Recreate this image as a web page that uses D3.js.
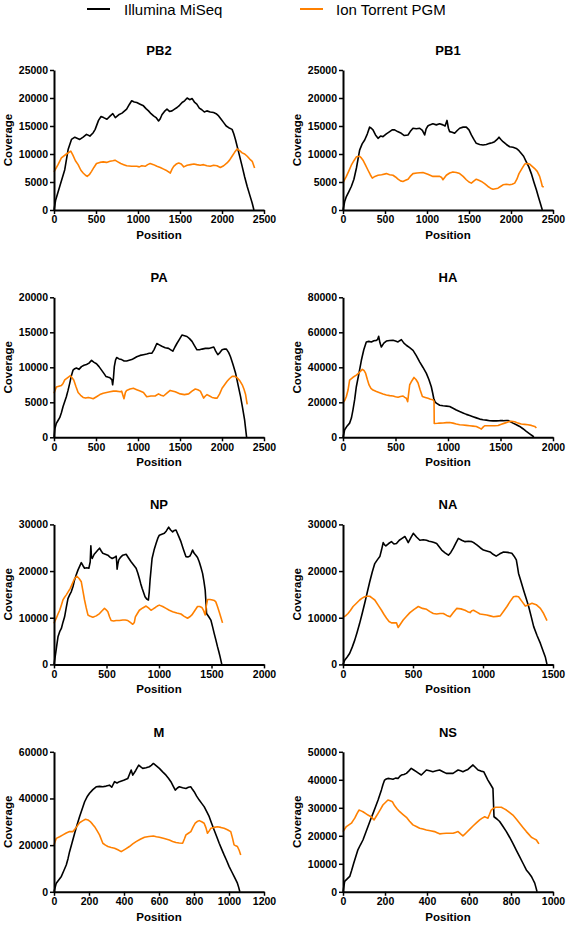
<!DOCTYPE html>
<html><head><meta charset="utf-8">
<script src="https://cdn.jsdelivr.net/npm/d3@7"></script>
<style>body{margin:0;background:#fff}svg{display:block}</style>
</head><body>
<script>
// ---------- DATA ----------
const segmentNames = ["PB2","PB1","PA","HA","NP","NA","M","NS"];
const xMaxes = [2500,2500,2500,2000,2000,1500,1200,1000];
const xTickSteps = [500,500,500,500,500,500,200,200];
const yMaxes = [25000,25000,20000,80000,30000,30000,60000,50000];
const yTickSteps = [5000,5000,5000,20000,10000,10000,20000,10000];
const seriesNames = ["Illumina MiSeq","Ion Torrent PGM"];

const illuminaPB2 = [[0,0],[20,1800],[68,4200],[128,7200],[168,10800],[208,12600],[248,13000],[307,12600],[347,13000],[387,13500],[427,13200],[467,13800],[490,14400],[530,16000],[560,16700],[590,16500],[630,16200],[670,16800],[700,17200],[730,16500],[770,17000],[810,17300],[865,18000],[895,18800],[925,19500],[955,19300],[985,19200],[1025,18900],[1065,18600],[1095,18100],[1125,17700],[1155,17200],[1185,16800],[1215,16500],[1245,15900],[1265,16300],[1285,17000],[1315,17600],[1345,18000],[1375,17600],[1405,17700],[1435,18000],[1465,18300],[1495,18700],[1525,19200],[1555,19500],[1585,20000],[1615,19700],[1645,19900],[1675,19200],[1700,18900],[1730,18200],[1760,17900],[1790,17500],[1820,17700],[1860,17500],[1900,17400],[1930,17200],[1960,16800],[1990,16200],[2020,15600],[2050,15000],[2080,14700],[2120,14400],[2140,13600],[2160,12600],[2200,10200],[2240,7800],[2270,5900],[2300,4200],[2330,2700],[2360,1200],[2380,0]];
const ionPB2 = [[0,6800],[48,8100],[88,9300],[148,10000],[200,10500],[225,9800],[255,8800],[287,8100],[320,7100],[347,6600],[375,6200],[395,6000],[420,6300],[447,6900],[475,7600],[506,8300],[546,8500],[586,8600],[626,8500],[666,8700],[700,8800],[726,8900],[760,8600],[795,8300],[830,8100],[865,7900],[925,7800],[985,7800],[1015,7700],[1045,7900],[1085,7800],[1115,8100],[1145,8300],[1185,8100],[1225,7800],[1265,7600],[1305,7300],[1345,7000],[1385,6600],[1405,7300],[1425,7800],[1455,8200],[1485,8400],[1515,8200],[1545,7700],[1585,8000],[1625,8100],[1665,8200],[1700,8100],[1740,8000],[1780,8100],[1820,7900],[1860,7800],[1900,8000],[1940,7900],[1980,7600],[2020,7900],[2060,8400],[2090,8900],[2120,9600],[2150,10300],[2180,10900],[2210,10600],[2240,10200],[2270,10000],[2300,9600],[2330,9100],[2360,8700],[2388,7500]];

const illuminaPB1 = [[0,0],[20,1500],[40,2400],[70,3300],[99,4200],[130,5500],[160,7500],[198,10700],[228,11800],[258,12500],[290,13600],[317,14800],[337,14600],[357,14300],[387,13400],[417,12800],[447,13200],[476,13100],[516,13600],[556,14000],[585,14300],[615,14300],[650,14000],[694,13700],[730,13300],[774,13400],[800,14000],[833,14600],[873,14500],[913,14600],[945,14200],[972,13400],[990,14500],[1010,15000],[1032,15200],[1070,15400],[1111,15200],[1150,15400],[1190,15200],[1215,15000],[1238,16000],[1255,14600],[1270,14000],[1300,13900],[1329,13700],[1360,14200],[1389,14600],[1430,14800],[1468,14800],[1500,14300],[1528,13400],[1558,12600],[1587,11900],[1627,11700],[1667,11600],[1706,11700],[1746,11900],[1775,12000],[1805,12200],[1835,12600],[1857,13000],[1880,12600],[1905,12200],[1945,11700],[1984,11300],[2024,11200],[2063,11000],[2095,10600],[2123,10100],[2150,9600],[2182,8600],[2212,7700],[2242,6500],[2272,5000],[2302,3600],[2325,2400],[2349,1200],[2373,0]];
const ionPB1 = [[0,4900],[40,6000],[70,7000],[99,8000],[130,8800],[159,9500],[198,9600],[218,9300],[238,8900],[268,8000],[298,7100],[325,6300],[349,5700],[380,6000],[417,6200],[460,6300],[516,6500],[555,6300],[595,6200],[625,5900],[655,5500],[685,5200],[714,5100],[744,5300],[774,5500],[800,6000],[833,6500],[880,6600],[952,6700],[1010,6400],[1071,6000],[1110,6000],[1151,6000],[1175,5800],[1190,5400],[1210,5800],[1230,6200],[1270,6600],[1309,6800],[1350,6700],[1389,6500],[1430,6000],[1468,5400],[1500,5000],[1528,4800],[1560,5200],[1587,5500],[1617,5300],[1647,5100],[1686,4700],[1726,4200],[1756,3900],[1786,3700],[1815,3800],[1845,3900],[1875,4200],[1905,4500],[1945,4600],[1984,4500],[2014,4600],[2044,4800],[2070,5500],[2095,6500],[2130,7400],[2163,8200],[2195,8300],[2222,8200],[2252,7800],[2282,7400],[2312,6900],[2341,6000],[2360,5000],[2373,4200],[2390,4100]];

const illuminaPA = [[0,0],[10,1200],[28,2000],[48,2400],[68,2800],[88,3500],[108,4400],[128,5100],[147,5800],[167,6700],[187,7700],[207,8800],[227,9600],[247,9800],[267,9900],[297,9700],[327,10100],[357,10300],[387,10400],[417,10600],[447,11000],[477,10700],[506,10500],[536,10100],[566,9600],[596,9100],[618,8700],[640,8600],[666,8500],[690,8200],[698,7500],[708,8500],[718,10100],[732,11000],[746,11400],[775,11200],[805,11100],[835,10900],[865,10900],[895,11000],[925,11100],[955,11300],[985,11500],[1025,11700],[1065,11800],[1104,11900],[1134,12000],[1164,12000],[1190,12500],[1224,13400],[1254,13200],[1284,13000],[1324,12800],[1364,12700],[1390,12500],[1415,12300],[1440,12900],[1463,13400],[1493,14000],[1523,14600],[1553,14500],[1583,14400],[1613,14100],[1643,13700],[1672,13100],[1702,12500],[1732,12500],[1762,12600],[1802,12700],[1842,12700],[1872,12800],[1902,12900],[1925,12300],[1950,11800],[1975,12100],[2001,12500],[2030,12600],[2053,12600],[2080,12100],[2101,11500],[2131,10400],[2161,9200],[2191,7500],[2221,5800],[2245,4200],[2269,2500],[2293,0]];
const ionPA = [[0,6300],[28,7200],[58,7300],[88,7400],[108,7700],[128,8200],[160,8500],[195,8800],[215,8500],[235,8200],[260,7300],[287,6400],[317,6000],[347,5700],[377,5600],[407,5700],[437,5600],[466,5500],[506,5800],[546,6100],[586,6300],[626,6400],[666,6500],[706,6600],[740,6600],[790,6500],[805,6600],[820,6000],[833,5500],[850,6400],[865,6700],[905,6900],[945,7000],[985,6800],[1025,6600],[1065,6400],[1104,5800],[1154,5900],[1204,5900],[1244,6200],[1274,6000],[1304,5900],[1344,6300],[1383,6700],[1443,6500],[1503,6200],[1553,6100],[1603,6200],[1643,6600],[1682,6900],[1712,6800],[1742,6600],[1762,6100],[1782,5600],[1802,5900],[1822,6100],[1852,5900],[1882,5700],[1912,5600],[1942,5600],[1972,6200],[2001,7000],[2031,7500],[2061,8000],[2091,8400],[2121,8700],[2151,8700],[2181,8500],[2211,8100],[2241,7500],[2261,6900],[2281,6100],[2293,5200],[2300,4700]];

const illuminaHA = [[0,0],[16,4300],[40,6500],[63,8100],[80,11000],[95,15700],[111,21500],[127,28900],[150,36000],[175,44000],[198,50000],[222,54500],[246,54800],[270,54500],[294,55200],[318,55400],[330,56000],[340,57700],[352,54000],[365,51600],[389,53800],[413,55000],[445,55300],[476,55400],[500,55000],[524,54500],[540,55200],[556,55800],[580,53800],[603,52600],[635,51200],[667,49700],[698,46700],[730,43100],[762,39900],[794,36500],[818,33000],[841,28900],[853,25600],[864,22300],[876,20300],[889,19500],[921,18300],[953,18000],[985,17800],[1016,17600],[1048,16600],[1079,15600],[1111,14700],[1143,13900],[1175,13100],[1207,12500],[1238,11800],[1270,11100],[1302,10400],[1334,10000],[1365,9800],[1397,9500],[1429,9400],[1460,9400],[1492,9500],[1524,9500],[1556,9600],[1572,9600],[1595,8900],[1619,8100],[1651,7200],[1683,6200],[1714,4900],[1746,3400],[1778,2000],[1810,600],[1816,0]];
const ionHA = [[0,19900],[16,21000],[32,23300],[48,27000],[63,32700],[95,34300],[127,35500],[155,37000],[184,38800],[200,38200],[216,36500],[232,33000],[248,29900],[266,28000],[286,27000],[318,26200],[349,25500],[381,24800],[413,24200],[445,23800],[476,23600],[500,23200],[524,22900],[548,23300],[572,23600],[588,22800],[603,22300],[616,20400],[625,25000],[635,29900],[655,32200],[676,34200],[695,33000],[714,31200],[735,27000],[756,23300],[783,22800],[810,22300],[833,21800],[857,21400],[867,20500],[869,7900],[900,8000],[921,8100],[953,8200],[985,8400],[1016,8500],[1048,8100],[1079,7600],[1111,7200],[1143,7000],[1175,6800],[1207,6600],[1238,6400],[1270,6200],[1294,5500],[1318,4700],[1334,5800],[1349,6600],[1381,6600],[1413,6600],[1445,6600],[1477,6700],[1508,7400],[1540,8100],[1572,8800],[1603,9200],[1635,8900],[1667,8100],[1698,7600],[1730,7400],[1762,7200],[1794,6800],[1826,6200],[1842,5300]];

const illuminaNP = [[0,0],[16,2400],[27,4200],[38,5900],[54,7000],[70,7700],[85,9000],[101,10200],[117,12200],[133,14100],[149,14900],[165,15600],[181,16700],[196,18100],[212,19200],[228,20200],[244,21000],[260,21800],[275,21200],[291,20600],[312,20700],[332,20600],[345,22000],[351,25400],[357,23000],[364,22700],[383,23600],[402,24100],[418,24500],[434,24900],[450,24300],[465,23800],[489,23600],[513,23400],[533,23000],[554,22700],[573,22900],[592,23200],[597,22000],[601,20400],[608,21500],[617,22400],[636,23000],[655,23400],[671,23500],[687,23600],[710,22800],[734,22000],[758,21300],[782,20600],[798,19600],[813,18400],[826,17300],[839,16300],[853,15400],[867,14500],[883,14000],[899,13800],[907,15500],[915,18100],[925,20500],[934,22700],[953,24500],[972,25900],[988,27000],[1003,27700],[1027,27900],[1051,28100],[1070,28600],[1092,29400],[1111,28800],[1130,28400],[1146,28700],[1162,28800],[1185,27600],[1209,26300],[1232,24700],[1256,23100],[1275,23000],[1294,23200],[1307,23800],[1320,24500],[1335,23800],[1351,23400],[1367,22900],[1383,22000],[1399,20800],[1415,19500],[1428,17800],[1440,15900],[1448,13000],[1453,10900],[1474,10200],[1494,9500],[1510,8100],[1526,6600],[1542,5200],[1557,3800],[1570,2700],[1582,1600],[1598,0]];
const ionNP = [[0,8800],[11,9400],[22,9900],[38,10800],[54,11600],[70,12700],[85,13800],[101,14400],[117,14900],[136,15600],[155,16300],[175,17300],[196,18400],[218,18900],[239,18400],[260,17700],[275,15800],[291,13800],[307,12100],[323,10600],[346,10300],[370,10100],[402,10400],[434,10900],[458,11500],[481,12000],[497,11700],[513,11300],[529,10200],[544,9400],[568,9300],[592,9400],[623,9400],[655,9500],[679,9500],[703,9400],[727,9000],[750,8600],[765,9000],[775,10200],[794,10900],[813,11600],[845,12100],[877,12500],[900,12100],[924,11600],[945,11900],[965,12200],[984,12500],[1003,12700],[1035,12400],[1067,12000],[1098,11600],[1130,11300],[1170,11000],[1209,10800],[1240,10300],[1272,9900],[1293,10200],[1313,10600],[1340,11500],[1367,12400],[1388,12400],[1408,12200],[1425,11500],[1440,10600],[1450,12500],[1462,13900],[1486,13900],[1510,13800],[1526,13700],[1541,13400],[1557,12400],[1573,11300],[1589,10100],[1605,8900]];

const illuminaNA = [[0,0],[12,900],[30,1600],[48,2400],[66,3700],[84,5200],[101,6900],[119,8800],[137,10900],[155,13100],[173,15400],[191,17700],[209,19800],[227,21600],[245,22400],[263,23100],[275,24500],[287,26100],[297,25600],[306,25400],[326,25900],[346,26300],[364,25800],[382,25900],[402,26600],[422,27000],[442,27400],[454,26800],[466,26100],[484,27100],[502,28100],[525,27300],[549,26600],[573,26700],[597,26600],[615,26400],[633,26300],[651,26100],[669,25900],[687,25200],[705,24500],[729,23900],[753,23400],[770,24000],[788,24900],[806,26000],[824,27000],[848,26600],[872,26300],[896,26400],[920,26300],[938,26000],[956,25600],[980,25000],[1003,24500],[1027,24300],[1051,24100],[1072,23600],[1094,23200],[1120,23700],[1147,24100],[1176,24000],[1206,23800],[1222,23200],[1238,22400],[1246,21000],[1254,19500],[1272,17700],[1290,15900],[1308,14200],[1326,12400],[1344,10300],[1362,8100],[1386,6200],[1410,4500],[1428,3000],[1445,1600],[1457,0]];
const ionNA = [[0,10100],[18,10400],[36,10900],[54,11600],[72,12400],[96,13100],[119,13800],[137,14200],[155,14500],[173,14600],[191,14600],[209,14200],[227,13800],[251,12700],[275,11600],[293,10700],[311,9900],[329,9200],[346,8900],[364,8900],[382,8900],[394,7900],[412,8700],[430,9500],[454,10300],[478,11100],[508,11800],[538,12400],[568,12000],[597,11800],[621,11300],[645,10900],[669,10800],[693,10900],[717,10900],[741,10500],[765,10200],[788,11100],[812,12000],[842,11900],[872,11600],[890,11300],[908,11100],[920,11500],[932,11600],[956,11200],[979,10800],[1003,10700],[1027,10600],[1051,10400],[1075,10200],[1099,10300],[1123,10400],[1147,11400],[1171,12400],[1194,13500],[1218,14500],[1236,14600],[1254,14500],[1278,13500],[1302,12500],[1326,12800],[1350,13100],[1380,12800],[1410,12000],[1433,10900],[1457,9400]];

const illuminaM = [[0,0],[13,3700],[28,5200],[42,6600],[56,9000],[70,11500],[80,14200],[89,17200],[104,21200],[118,25100],[132,28700],[146,32200],[161,35500],[175,38600],[189,40700],[203,42200],[222,43800],[241,45000],[260,45200],[279,45000],[298,45300],[317,45700],[330,44800],[346,47200],[360,46600],[374,47200],[398,47800],[422,48600],[432,50500],[441,52200],[450,50000],[467,52000],[484,54300],[496,53500],[507,52900],[526,53200],[545,53600],[556,54200],[568,55000],[585,54000],[602,52900],[621,51400],[640,50000],[654,48700],[668,47200],[681,45300],[693,43600],[705,44500],[716,45000],[735,44600],[754,44300],[768,44800],[782,45000],[792,43800],[801,42900],[815,41000],[830,39300],[844,37900],[858,36500],[872,34500],[887,32200],[901,29300],[915,26500],[930,23600],[944,20800],[958,18300],[972,15800],[987,13300],[1001,10800],[1015,8700],[1029,6600],[1039,5100],[1048,3700],[1055,2000],[1062,0]];
const ionM = [[0,20100],[6,21500],[13,22900],[32,23600],[51,24400],[70,25200],[89,25800],[108,25800],[127,27600],[146,29600],[163,30400],[180,31100],[194,30800],[207,30100],[220,29000],[232,27900],[246,26200],[260,24400],[270,22500],[279,20800],[294,20000],[308,19400],[327,19000],[346,18700],[365,18000],[384,17200],[408,18300],[431,19400],[450,20500],[469,21500],[493,22500],[517,23400],[542,23700],[568,23900],[585,23600],[602,23400],[630,22800],[659,22200],[678,21600],[697,21100],[716,20900],[735,20800],[745,22600],[754,24400],[768,25100],[782,25800],[795,27800],[807,29400],[818,30100],[830,30500],[844,30000],[858,29400],[868,27500],[877,25100],[886,26000],[896,27200],[915,27600],[934,27900],[953,27600],[972,27200],[991,26600],[1010,25800],[1020,23000],[1029,20100],[1039,19700],[1048,19400],[1058,17800],[1067,15800]];

const illuminaNS = [[0,0],[8,3700],[20,4600],[32,5500],[41,7600],[51,10200],[61,12600],[71,15000],[83,16800],[95,18500],[107,20900],[119,23300],[131,25700],[143,28000],[155,30400],[167,32800],[175,34600],[183,36400],[190,38200],[198,39900],[206,40300],[214,40500],[226,40400],[238,40200],[250,40600],[262,40500],[270,41200],[278,41700],[290,41900],[302,42300],[314,43200],[325,44100],[337,43500],[349,42900],[361,42300],[373,41700],[385,42600],[397,43500],[412,43200],[428,42900],[444,43200],[460,43500],[476,42900],[492,42300],[508,42300],[524,42300],[536,42900],[548,43500],[560,43200],[571,42900],[583,43300],[595,43700],[607,44500],[619,45300],[631,44400],[643,43500],[657,43100],[670,42900],[680,41400],[690,39900],[702,38400],[714,36900],[717,31000],[719,26800],[733,26000],[746,25100],[762,23300],[778,21500],[794,19400],[809,17300],[825,14900],[841,12600],[857,10200],[873,7800],[885,6700],[897,5500],[905,4300],[913,3100],[919,1500],[924,0]];
const ionNS = [[0,21500],[8,22400],[16,23300],[28,23900],[40,24500],[48,25400],[56,26300],[66,27800],[76,29200],[86,28900],[95,28600],[107,28000],[119,27400],[127,27100],[135,26800],[141,26200],[148,25700],[157,26800],[167,28000],[179,29500],[190,31000],[202,31900],[214,32800],[225,32500],[235,32200],[246,30700],[258,29600],[270,28600],[286,27600],[302,26600],[317,25200],[333,23900],[349,23300],[365,22700],[381,22400],[397,22100],[416,21800],[436,21500],[448,21100],[460,20700],[476,20800],[492,20900],[508,20900],[524,20900],[536,21200],[548,21500],[560,20700],[571,20000],[579,20500],[587,21100],[603,22300],[619,23500],[635,24600],[651,25700],[663,26300],[675,26800],[683,26500],[690,26300],[698,27700],[706,29200],[716,29800],[727,30200],[740,30200],[754,30200],[766,29700],[778,29200],[794,28300],[809,27400],[825,26000],[841,24500],[857,23000],[873,21500],[885,20500],[897,19500],[909,19000],[921,18500],[927,17800],[933,17100]];

const illuminaSeries = [illuminaPB2, illuminaPB1, illuminaPA, illuminaHA, illuminaNP, illuminaNA, illuminaM, illuminaNS];
const ionSeries = [ionPB2, ionPB1, ionPA, ionHA, ionNP, ionNA, ionM, ionNS];

// ---------- LAYOUT ----------
const W = 567, H = 925;
const FONT = "'Liberation Sans', Arial, Helvetica, sans-serif";
const colLeft = [54, 343];
const plotW = 210, plotH = 140;
const rowTop = [70, 297.3, 524.4, 751.8];
const colors = ["#000000", "#ff8000"];

const svg = d3.select("body").append("svg").attr("width", W).attr("height", H)
  .style("font-family", FONT);

// legend
const legendX = [[87, 124], [300, 336]];
seriesNames.forEach((name, i) => {
  const g = svg.append("g");
  g.append("line").attr("x1", legendX[i][0]).attr("x2", legendX[i][0] + 23)
    .attr("y1", 9).attr("y2", 9).attr("stroke", colors[i]).attr("stroke-width", 2);
  g.append("text").attr("x", legendX[i][1]).attr("y", 15)
    .attr("font-size", 15).attr("fill", "#000").text(name);
});

segmentNames.forEach((seg, k) => {
  const col = k % 2, row = Math.floor(k / 2);
  const x0 = colLeft[col], y0 = rowTop[row];
  const g = svg.append("g").attr("transform", `translate(${x0},${y0})`);

  const x = d3.scaleLinear().domain([0, xMaxes[k]]).range([0, plotW]);
  const y = d3.scaleLinear().domain([0, yMaxes[k]]).range([plotH, 0]);

  const line = d3.line().x(d => x(d[0])).y(d => y(d[1]));
  [illuminaSeries[k], ionSeries[k]].forEach((data, i) => {
    g.append("path").datum(data).attr("d", line)
      .attr("fill", "none").attr("stroke", colors[i]).attr("stroke-width", 1.6)
      .attr("stroke-linejoin", "round");
  });

  const yAxis = d3.axisLeft(y).tickValues(d3.range(0, yMaxes[k] + 1, yTickSteps[k]))
    .tickSize(4).tickSizeOuter(0).tickPadding(2).tickFormat(d3.format("d"));
  const xAxis = d3.axisBottom(x).tickValues(d3.range(0, xMaxes[k] + 1, xTickSteps[k]))
    .tickSize(4).tickSizeOuter(0).tickPadding(2).tickFormat(d3.format("d"));

  const ya = g.append("g").call(yAxis);
  const xa = g.append("g").attr("transform", `translate(0,${plotH})`).call(xAxis);
  [ya, xa].forEach(a => {
    a.select(".domain").attr("stroke", "#000").attr("stroke-width", 2);
    a.selectAll(".tick line").attr("stroke", "#000").attr("stroke-width", 1.5);
    a.selectAll(".tick text").attr("fill", "#000")
      .attr("font-family", FONT).attr("font-size", 10.5).attr("font-weight", "bold");
  });

  g.append("text").attr("x", plotW / 2).attr("y", -15).attr("text-anchor", "middle")
    .attr("font-size", 13).attr("font-weight", "bold").text(seg);
  g.append("text").attr("transform", `translate(-42,${plotH / 2}) rotate(-90)`)
    .attr("text-anchor", "middle").attr("font-size", 11.5).attr("font-weight", "bold")
    .text("Coverage");
  g.append("text").attr("x", plotW / 2).attr("y", plotH + 29).attr("text-anchor", "middle")
    .attr("font-size", 11.5).attr("font-weight", "bold").text("Position");
});
</script>
</body></html>
